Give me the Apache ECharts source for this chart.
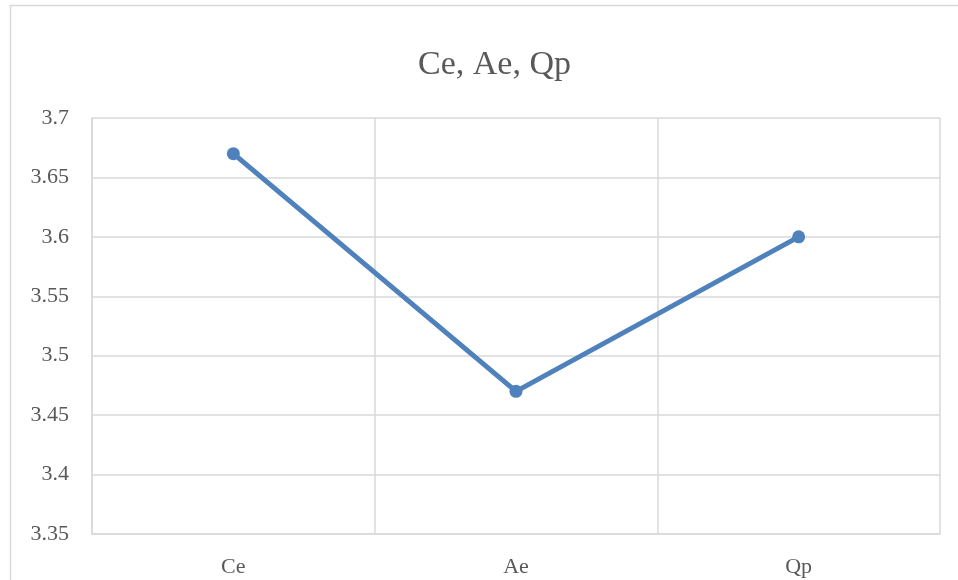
<!DOCTYPE html>
<html>
<head>
<meta charset="UTF-8">
<script src="https://cdn.jsdelivr.net/npm/echarts@6/dist/echarts.min.js"></script>
<style>
  html, body { margin: 0; padding: 0; background: #fff; }
  #main { width: 958px; height: 580px; }
</style>
</head>
<body>
<div id="main"></div>
<script>
var categories = ['Ce', 'Ae', 'Qp'];
var values = [3.67, 3.47, 3.6];
var yMin = 3.35, yMax = 3.7, yStep = 0.05;

var chart = echarts.init(document.getElementById('main'));
var font = '"Liberation Serif", "DejaVu Serif", serif';
chart.setOption({
    backgroundColor: '#fff',
    animation: false,
    graphic: [{
        type: 'rect',
        shape: { x: 10.5, y: 5.5, width: 1000, height: 1000 },
        style: { fill: 'none', stroke: '#d9d9d9', lineWidth: 1.5 },
        silent: true
    }],
    title: {
        text: 'Ce, Ae, Qp',
        left: 413,
        top: 43,
        textStyle: { fontFamily: font, fontSize: 34, fontWeight: 'normal', color: '#595959' }
    },
    grid: { left: 92, right: 18, top: 118, bottom: 46 },
    xAxis: {
        type: 'category',
        data: categories,
        boundaryGap: true,
        axisLine: { lineStyle: { color: '#d9d9d9', width: 1.5 } },
        axisTick: { show: false },
        splitLine: { show: true, lineStyle: { color: '#d9d9d9', width: 1.5 } },
        axisLabel: { fontFamily: font, fontSize: 22, color: '#595959', margin: 22 }
    },
    yAxis: {
        type: 'value',
        min: yMin,
        max: yMax,
        interval: yStep,
        axisLine: { show: true, lineStyle: { color: '#d9d9d9', width: 1.5 } },
        axisTick: { show: false },
        splitLine: { lineStyle: { color: '#d9d9d9', width: 1.5 } },
        axisLabel: {
            fontFamily: font, fontSize: 22, color: '#595959', margin: 23,
            formatter: function (v) { return String(+v.toFixed(2)); }
        }
    },
    series: [{
        type: 'line',
        data: values,
        symbol: 'circle',
        symbolSize: 13,
        lineStyle: { color: '#4f81bd', width: 5 },
        itemStyle: { color: '#4f81bd' }
    }]
});
</script>
</body>
</html>
